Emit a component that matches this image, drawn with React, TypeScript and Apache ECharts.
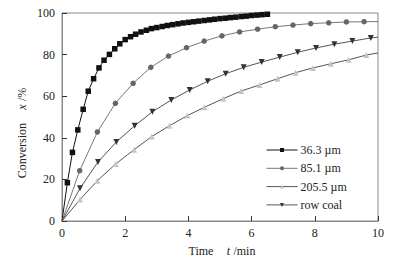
import React, { useEffect, useRef } from "react";
import * as echarts from "echarts";

const xTicks = [0, 2, 4, 6, 8, 10];
const yTicks = [0, 20, 40, 60, 80, 100];

const legendNames = ["36.3 µm", "85.1 µm", "205.5 µm", "row coal"];

// 36.3 µm
const t363 = [0, 0.17, 0.33, 0.5, 0.67, 0.83, 1.0, 1.17, 1.33, 1.5, 1.67, 1.83, 2.0, 2.17, 2.33, 2.5, 2.67, 2.83, 3.0, 3.17, 3.33, 3.5, 3.67, 3.83, 4.0, 4.17, 4.33, 4.5, 4.67, 4.83, 5.0, 5.17, 5.33, 5.5, 5.67, 5.83, 6.0, 6.17, 6.33, 6.5];
const v363 = [0, 18.4, 33.0, 43.8, 53.7, 62.4, 68.4, 73.6, 77.3, 80.1, 82.8, 85.2, 87.2, 88.6, 89.8, 90.9, 91.7, 92.5, 93.0, 93.5, 94.0, 94.4, 94.8, 95.2, 95.5, 95.8, 96.1, 96.4, 96.7, 97.0, 97.3, 97.5, 97.8, 98.0, 98.3, 98.5, 98.8, 99.0, 99.2, 99.4];

// 85.1 µm
const t851 = [0, 0.56, 1.12, 1.69, 2.25, 2.81, 3.37, 3.94, 4.5, 5.06, 5.62, 6.19, 6.75, 7.31, 7.87, 8.44, 9.0, 9.56, 10];
const v851 = [0, 24.2, 42.8, 56.6, 66.2, 73.9, 79.3, 83.3, 86.5, 89.0, 90.9, 92.2, 93.4, 94.2, 94.9, 95.3, 95.7, 95.8, 95.9];

// 205.5 µm
const t2055 = [0, 0.57, 1.12, 1.70, 2.28, 2.84, 3.40, 3.97, 4.51, 5.10, 5.67, 6.25, 6.82, 7.39, 7.94, 8.51, 9.07, 9.63, 10];
const v2055 = [0, 10.3, 19.4, 27.4, 34.3, 40.6, 45.8, 50.7, 54.7, 58.8, 62.5, 65.4, 68.4, 71.3, 73.6, 75.6, 77.5, 79.8, 80.8];

// row coal
const tRow = [0, 0.57, 1.14, 1.72, 2.30, 2.86, 3.46, 4.04, 4.61, 5.18, 5.75, 6.32, 6.89, 7.46, 8.04, 8.62, 9.19, 9.77, 10];
const vRow = [0, 15.7, 28.4, 38.0, 45.8, 52.5, 58.2, 63.0, 67.2, 70.8, 73.9, 76.4, 78.8, 81.1, 83.2, 85.0, 86.5, 88.0, 88.4];

const FONT = "'Liberation Serif', 'Times New Roman', serif";

function build(ts: number[], vs: number[], extendEnd: boolean) {
  return ts.map((t, i) => {
    const isStart = i === 0;
    const isEnd = extendEnd && i === ts.length - 1;
    if (isStart || isEnd) return { value: [t, vs[i]], symbol: "none" };
    return { value: [t, vs[i]] };
  });
}

export default function App() {
  const ref = useRef<HTMLDivElement>(null);
  useEffect(() => {
    if (!ref.current) return;
    const chart = echarts.init(ref.current, null, { renderer: "svg" });
    const axisColor = "#8a8a8a";
    const rich = {
      a: { fontFamily: FONT, fontSize: 12, fill: "#222", color: "#222" },
      i: { fontFamily: FONT, fontSize: 12, fontStyle: "italic", fill: "#222", color: "#222" },
    };
    chart.setOption({
      animation: false,
      backgroundColor: "#ffffff",
      grid: {
        left: 62,
        right: 23,
        top: 13,
        bottom: 41,
        show: true,
        borderColor: axisColor,
        borderWidth: 1,
      },
      graphic: [
        {
          type: "text",
          x: 22,
          y: 133,
          rotation: Math.PI / 2,
          style: {
            text: "{a|Conversion}    {i|x} {a|/%}",
            rich,
            align: "center",
            verticalAlign: "middle",
          },
        },
      ],
      legend: {
        orient: "vertical",
        left: 261,
        top: 138,
        itemWidth: 31,
        itemHeight: 5,
        itemGap: 4.3,
        data: legendNames,
        lineStyle: { width: 1 },
        textStyle: { fontFamily: FONT, fontSize: 12, color: "#222", lineHeight: 14, padding: [0, 0, 0, -2] },
      },
      xAxis: {
        type: "value",
        min: 0,
        max: 10,
        interval: 2,
        name: "{a|Time}    {i|t} {a|/min}",
        nameLocation: "middle",
        nameGap: 24,
        nameTextStyle: {
          rich: {
            a: { fontFamily: FONT, fontSize: 12, color: "#222" },
            i: { fontFamily: FONT, fontSize: 12, fontStyle: "italic", color: "#222" },
          },
          padding: [0, 0, 0, 4],
        },
        axisLine: { show: true, lineStyle: { color: axisColor, width: 1 } },
        axisTick: { show: true, inside: true, length: 5, lineStyle: { color: "#333" } },
        axisLabel: {
          fontFamily: FONT,
          fontSize: 12,
          color: "#222",
          margin: 6,
          formatter: (v: number) => (xTicks.includes(v) ? String(v) : ""),
        },
        splitLine: { show: false },
      },
      yAxis: {
        type: "value",
        min: 0,
        max: 100,
        interval: 20,
        axisLine: { show: true, lineStyle: { color: axisColor, width: 1 } },
        axisTick: { show: true, inside: true, length: 5, lineStyle: { color: "#333" } },
        axisLabel: {
          fontFamily: FONT,
          fontSize: 12,
          color: "#222",
          margin: 7,
          formatter: (v: number) => (yTicks.includes(v) ? String(v) : ""),
        },
        splitLine: { show: false },
      },
      series: [
        {
          name: legendNames[0],
          type: "line",
          data: build(t363, v363, false),
          symbol: "rect",
          symbolSize: 5.5,
          itemStyle: { color: "#111" },
          lineStyle: { color: "#111", width: 1 },
        },
        {
          name: legendNames[1],
          type: "line",
          data: build(t851, v851, true),
          symbol: "circle",
          symbolSize: 5.5,
          itemStyle: { color: "#666" },
          lineStyle: { color: "#777", width: 1 },
        },
        {
          name: legendNames[2],
          type: "line",
          data: build(t2055, v2055, true),
          symbol: "triangle",
          symbolSize: 6,
          itemStyle: { color: "#c4c4c4" },
          lineStyle: { color: "#555", width: 1 },
        },
        {
          name: legendNames[3],
          type: "line",
          data: build(tRow, vRow, true),
          symbol: "triangle",
          symbolRotate: 180,
          symbolSize: 6,
          itemStyle: { color: "#333" },
          lineStyle: { color: "#555", width: 1 },
        },
      ],
    });
    return () => chart.dispose();
  }, []);
  return <div ref={ref} style={{ width: 401, height: 262, position: "absolute", left: 0, top: 0 }} />;
}
